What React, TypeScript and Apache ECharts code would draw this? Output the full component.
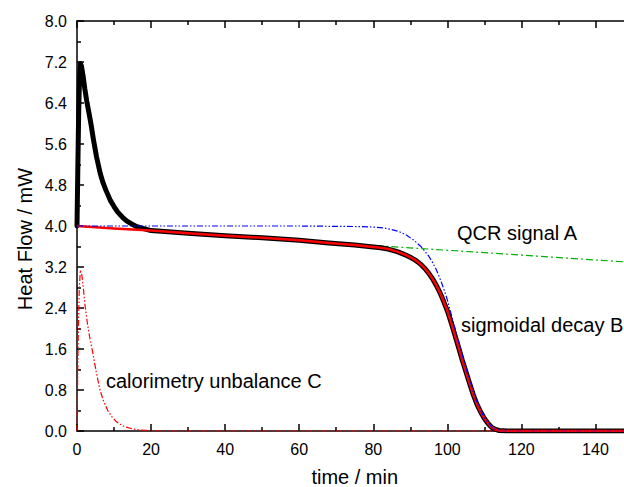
import React, { useEffect, useRef } from 'react';
import * as echarts from 'echarts';

// Sigmoidal decay B (red solid): [time/min, heat flow/mW]
const sigmoidB: number[][] = [
  [0, 4.0], [10, 3.95], [20, 3.91], [30, 3.86], [40, 3.81], [50, 3.77], [60, 3.72],
  [68, 3.67], [75, 3.63], [80, 3.59], [82, 3.575], [84, 3.55], [86, 3.51], [87, 3.485],
  [88, 3.455], [89, 3.425], [90, 3.39], [91, 3.35], [92, 3.3], [93, 3.24], [94, 3.165],
  [95, 3.075], [96, 2.97], [97, 2.845], [98, 2.7], [99, 2.53], [100, 2.345], [101, 2.12],
  [102, 1.88], [103, 1.64], [104, 1.39], [105, 1.16], [106, 0.93], [107, 0.71],
  [108, 0.52], [109, 0.37], [110, 0.245], [111, 0.145], [112, 0.07], [113, 0.03],
  [114, 0.01], [116, 0], [150, 0],
];

// Measured heat flow (black thick), early part; later follows sigmoidB
const measuredEarly: number[][] = [
  [0, 4.0], [0.2, 5.0], [0.45, 6.2], [0.7, 6.95], [0.9, 7.17], [1.2, 7.12], [1.6, 6.95],
  [2.1, 6.68], [2.6, 6.45], [3.2, 6.22], [3.75, 6.0], [4.45, 5.68], [5.27, 5.35],
  [6.26, 5.03], [7.0, 4.85], [7.8, 4.7], [9.0, 4.5], [10.0, 4.38], [11.0, 4.27],
  [12.3, 4.17], [13.4, 4.1], [14.5, 4.05], [16, 3.99], [18, 3.95],
];

// Calorimetry unbalance C (red dash-dot-dot)
const unbalanceC: number[][] = [
  [0, 0], [0.3, 1.7], [0.6, 2.75], [0.9, 3.14], [1.3, 3.05], [1.7, 2.8], [2.2, 2.43],
  [2.8, 2.1], [3.5, 1.8], [4.2, 1.55], [5.2, 1.15], [6.2, 0.8], [7.2, 0.58], [8.3, 0.4],
  [9.4, 0.28], [10.5, 0.19], [11.7, 0.13], [13, 0.08], [15, 0.04], [17, 0.02],
  [20, 0.005], [22, 0], [150, 0],
];

// QCR signal A (blue dash-dot-dot)
const qcrA: number[][] = [
  [0, 4.0], [20, 4.0], [40, 4.0], [60, 4.0], [75, 3.99], [80, 3.98], [83, 3.96],
  [85, 3.93], [87, 3.89], [89, 3.82], [91, 3.72], [93, 3.59], [95, 3.41], [96, 3.29],
  [97, 3.15], [98, 2.98], [99, 2.78], [100, 2.56], [101, 2.29], [102, 2.02], [103, 1.76],
  [104, 1.49], [105, 1.23], [106, 1.0], [107, 0.77], [108, 0.56], [109, 0.4],
  [110, 0.265], [111, 0.16], [112, 0.08], [113, 0.035], [114, 0.012], [116, 0], [150, 0],
];

// Linear baseline (green dash-dot)
const baseline: number[][] = [[0, 4.0], [150, 3.29]];

const measured: number[][] = [
  ...measuredEarly,
  ...sigmoidB.filter((p) => p[0] >= 20),
];

const FONT = '"Liberation Sans", Arial, sans-serif';

export default function App() {
  const ref = useRef<HTMLDivElement>(null);
  useEffect(() => {
    const chart = echarts.init(ref.current!, null, { renderer: 'svg' });
    const axisCommon = {
      axisLine: { show: true, onZero: false, lineStyle: { color: '#000', width: 1.5 } },
      axisTick: { show: true, inside: true, length: 7, lineStyle: { color: '#000', width: 1.5 } },
      minorTick: { show: true, splitNumber: 2, length: 4, lineStyle: { color: '#000', width: 1.5 } },
      splitLine: { show: false },
      minorSplitLine: { show: false },
    };
    chart.setOption({
      animation: false,
      backgroundColor: '#fff',
      grid: { left: 77, right: -8.5, top: 21, bottom: 56, containLabel: false, outerBoundsMode: 'none' },
      xAxis: [
        {
          type: 'value', min: 0, max: 150, interval: 20, position: 'bottom',
          ...axisCommon,
          axisLabel: { color: '#000', fontSize: 16, fontFamily: FONT, margin: 10, showMaxLabel: false },
          name: 'time / min', nameLocation: 'middle', nameGap: 36,
          nameTextStyle: { color: '#000', fontSize: 20, fontFamily: FONT },
        },
        {
          type: 'value', min: 0, max: 150, interval: 20, position: 'top',
          ...axisCommon,
          axisLabel: { show: false },
        },
      ],
      yAxis: [
        {
          type: 'value', min: 0, max: 8, interval: 0.8,
          ...axisCommon,
          axisLabel: {
            color: '#000', fontSize: 16, fontFamily: FONT, margin: 10,
            formatter: (v: number) => v.toFixed(1),
          },
        },
      ],
      graphic: [
        {
          type: 'text', x: 25, y: 239, rotation: Math.PI / 2,
          style: { text: 'Heat Flow / mW', fill: '#000', font: `20px ${FONT}`, textAlign: 'center', textVerticalAlign: 'middle' },
        },
        {
          type: 'text', x: 457, y: 233,
          style: { text: 'QCR signal A', fill: '#000', font: `20px ${FONT}`, textAlign: 'left', textVerticalAlign: 'middle' },
        },
        {
          type: 'text', x: 461, y: 325,
          style: { text: 'sigmoidal decay B', fill: '#000', font: `20px ${FONT}`, textAlign: 'left', textVerticalAlign: 'middle' },
        },
        {
          type: 'text', x: 106, y: 381,
          style: { text: 'calorimetry unbalance C', fill: '#000', font: `20px ${FONT}`, textAlign: 'left', textVerticalAlign: 'middle' },
        },
      ],
      series: [
        {
          name: 'baseline', type: 'line', data: baseline, showSymbol: false,
          lineStyle: { color: '#00b000', width: 1.2, type: [7, 3, 2, 3] },
        },
        {
          name: 'measured', type: 'line', data: measured, showSymbol: false,
          lineStyle: { color: '#000', width: 5, join: 'round', cap: 'round' },
        },
        {
          name: 'sigmoidal decay B', type: 'line', data: sigmoidB, showSymbol: false,
          lineStyle: { color: '#ff0000', width: 2.5, join: 'round' },
        },
        {
          name: 'QCR signal A', type: 'line', data: qcrA, showSymbol: false,
          lineStyle: { color: '#0000ff', width: 1.2, type: [6, 2, 1.5, 2, 1.5, 2] },
        },
        {
          name: 'calorimetry unbalance C', type: 'line', data: unbalanceC, showSymbol: false,
          lineStyle: { color: '#ff0000', width: 1.2, type: [6, 2, 1.5, 2, 1.5, 2] },
        },
      ],
    });
    return () => chart.dispose();
  }, []);
  return <div ref={ref} style={{ position: 'fixed', left: 0, top: 0, width: 624, height: 487 }} />;
}
